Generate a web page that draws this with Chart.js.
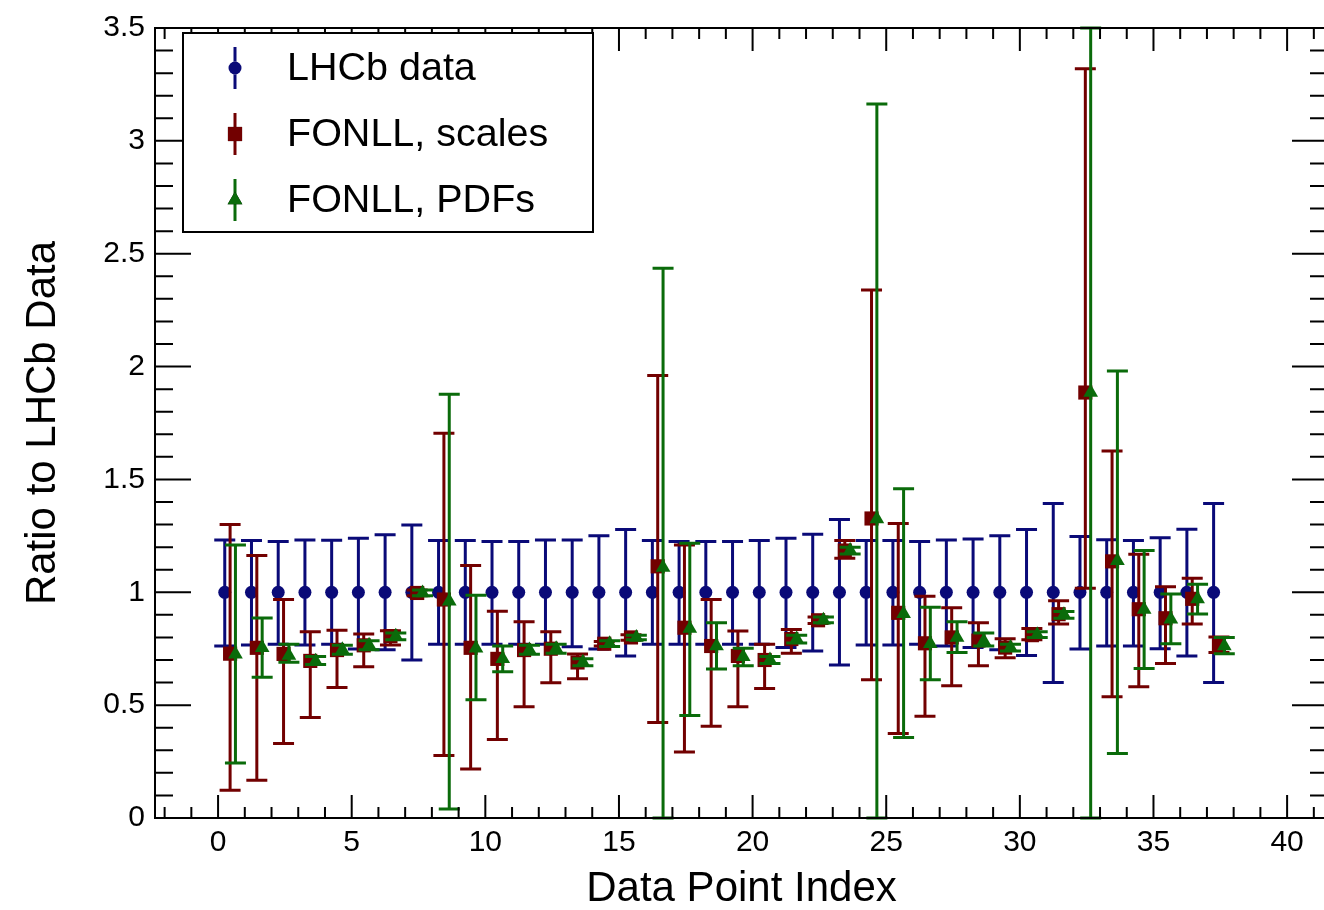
<!DOCTYPE html>
<html>
<head>
<meta charset="utf-8">
<script src="https://cdn.jsdelivr.net/npm/chart.js@4.4.0/dist/chart.umd.min.js"></script>
<style>
  html, body { margin: 0; padding: 0; background: #fff; overflow: hidden; }
</style>
</head>
<body>
<canvas id="myChart" width="1340" height="910"></canvas>
<script>
// data point index (x) of every measurement
const pointIndex = [0,1,2,3,4,5,6,7,8,9,10,11,12,13,14,15,16,17,18,19,20,21,22,23,24,25,26,27,28,29,30,31,32,33,34,35,36,37];

// LHCb data: ratio is 1 everywhere, error band upper / lower edge
const lhcbValue = [1,1,1,1,1,1,1,1,1,1,1,1,1,1,1,1,1,1,1,1,1,1,1,1,1,1,1,1,1,1,1,1,1,1,1,1,1,1];
const lhcbHi = [1.232,1.229,1.225,1.232,1.23,1.239,1.255,1.298,1.229,1.229,1.225,1.225,1.232,1.232,1.251,1.278,1.229,1.225,1.225,1.225,
                1.229,1.239,1.257,1.322,1.229,1.229,1.225,1.232,1.236,1.251,1.278,1.393,1.247,1.233,1.229,1.242,1.279,1.393];
const lhcbLo = [0.762,0.766,0.77,0.766,0.77,0.749,0.745,0.70,0.77,0.77,0.77,0.77,0.77,0.759,0.749,0.718,0.77,0.77,0.77,0.77,
                0.77,0.755,0.74,0.678,0.766,0.766,0.77,0.762,0.755,0.745,0.72,0.60,0.749,0.762,0.762,0.75,0.718,0.60];

// FONLL, scale variations
const scalesValue = [0.728,0.754,0.727,0.696,0.744,0.765,0.806,0.997,0.968,0.754,0.705,0.744,0.75,0.689,0.772,0.80,1.115,0.843,0.762,0.718,
                     0.70,0.793,0.876,1.185,1.327,0.909,0.774,0.80,0.786,0.755,0.81,0.903,1.885,1.137,0.925,0.885,0.971,0.762];
const scalesHi = [1.30,1.163,0.968,0.825,0.832,0.815,0.83,1.01,1.705,1.119,0.916,0.869,0.825,0.727,0.782,0.812,1.96,1.21,0.968,0.828,
                  0.77,0.835,0.89,1.229,2.339,1.305,0.982,0.932,0.865,0.794,0.84,0.962,3.32,1.626,1.169,1.024,1.062,0.802];
const scalesLo = [0.123,0.167,0.33,0.445,0.578,0.67,0.766,0.985,0.277,0.217,0.348,0.493,0.599,0.617,0.762,0.788,0.423,0.292,0.407,0.493,
                  0.574,0.73,0.862,1.151,0.612,0.374,0.451,0.586,0.674,0.71,0.79,0.86,1.018,0.537,0.581,0.684,0.86,0.733];

// FONLL, PDF uncertainties
const pdfValue = [0.725,0.754,0.72,0.695,0.745,0.765,0.805,0.997,0.96,0.752,0.705,0.744,0.75,0.69,0.772,0.80,1.11,0.84,0.762,0.714,
                  0.70,0.793,0.876,1.185,1.325,0.905,0.772,0.80,0.784,0.755,0.812,0.90,1.885,1.14,0.924,0.88,0.97,0.762];
const pdfHi = [1.21,0.886,0.77,0.715,0.765,0.785,0.82,1.01,1.877,0.987,0.762,0.765,0.77,0.705,0.785,0.81,2.436,1.217,0.865,0.752,
               0.715,0.81,0.89,1.2,3.163,1.459,0.934,0.869,0.82,0.77,0.825,0.915,3.5,1.98,1.185,0.992,1.036,0.80];
const pdfLo = [0.244,0.624,0.69,0.68,0.725,0.745,0.79,0.985,0.04,0.524,0.648,0.725,0.73,0.675,0.76,0.79,0,0.454,0.66,0.674,
               0.685,0.775,0.865,1.17,0,0.357,0.612,0.733,0.762,0.74,0.80,0.885,0,0.286,0.662,0.772,0.904,0.728];

const seriesLabels = ['LHCb data', 'FONLL, scales', 'FONLL, PDFs'];
const yTicks = [0, 0.5, 1, 1.5, 2, 2.5, 3, 3.5];

const BLUE = '#0a0a78';
const RED = '#720000';
const GREEN = '#0a6b0a';
const FONT = '"Liberation Sans", Arial, Helvetica, sans-serif';

function points(values, shift) {
  return pointIndex.map((idx, i) => ({ x: idx + shift, y: values[i] }));
}

// vertical error bars with caps, drawn under each dataset's markers
const errorBars = {
  id: 'errorBars',
  beforeDatasetDraw(chart, args) {
    const ds = chart.data.datasets[args.index];
    const ys = chart.scales.y;
    const area = chart.chartArea;
    const ctx = chart.ctx;
    ctx.save();
    ctx.beginPath();
    ctx.rect(area.left, area.top - 2, area.right - area.left, area.bottom - area.top + 4);
    ctx.clip();
    ctx.strokeStyle = ds.borderColor;
    ctx.lineWidth = 3;
    args.meta.data.forEach((pt, i) => {
      const yHi = ys.getPixelForValue(ds.errHi[i]);
      const yLo = ys.getPixelForValue(ds.errLo[i]);
      ctx.beginPath();
      ctx.moveTo(pt.x, yHi); ctx.lineTo(pt.x, yLo);
      ctx.moveTo(pt.x - 10.5, yHi); ctx.lineTo(pt.x + 10.5, yHi);
      ctx.moveTo(pt.x - 10.5, yLo); ctx.lineTo(pt.x + 10.5, yLo);
      ctx.stroke();
    });
    ctx.restore();
  }
};

// ROOT-like frame with inward ticks on all sides, then the legend box
const frameAndLegend = {
  id: 'frameAndLegend',
  afterDraw(chart) {
    const ctx = chart.ctx;
    const { left, right, top, bottom } = chart.chartArea;
    const xs = chart.scales.x, ys = chart.scales.y;
    ctx.save();
    ctx.strokeStyle = '#000';
    ctx.lineWidth = 2;
    ctx.strokeRect(left, top, right - left, bottom - top);
    ctx.beginPath();
    for (let v = Math.ceil(xs.min); v <= xs.max; v++) {
      const px = xs.getPixelForValue(v);
      const len = v % 5 === 0 ? 23 : 11;
      ctx.moveTo(px, bottom); ctx.lineTo(px, bottom - len);
      ctx.moveTo(px, top); ctx.lineTo(px, top + len);
    }
    for (let k = 0; k <= 35; k++) {
      const py = ys.getPixelForValue(k / 10);
      const len = k % 5 === 0 ? 36 : 18;
      ctx.moveTo(left, py); ctx.lineTo(left + len, py);
      ctx.moveTo(right, py); ctx.lineTo(right - len, py);
    }
    ctx.stroke();

    // legend
    const bx = 183, by = 33, bw = 410, bh = 199;
    ctx.fillStyle = '#fff';
    ctx.fillRect(bx, by, bw, bh);
    ctx.lineWidth = 2;
    ctx.strokeRect(bx, by, bw, bh);
    const rowY = [68, 134, 200];
    chart.data.datasets.forEach((ds, i) => {
      const mx = 235, my = rowY[i];
      ctx.strokeStyle = ds.borderColor;
      ctx.lineWidth = 3;
      ctx.beginPath();
      ctx.moveTo(mx, my - 21); ctx.lineTo(mx, my + 21);
      ctx.stroke();
      Chart.helpers.drawPoint(ctx, {
        pointStyle: ds.pointStyle, radius: ds.pointRadius, borderWidth: 0, rotation: 0
      }, mx, my);
      ctx.fillStyle = ds.backgroundColor;
      ctx.fill();
      ctx.fillStyle = '#000';
      ctx.font = '39.5px ' + FONT;
      ctx.textBaseline = 'middle';
      ctx.textAlign = 'left';
      ctx.fillText(ds.label, 287, my + 1);
    });
    ctx.restore();
  }
};

const ctx = document.getElementById('myChart').getContext('2d');
const myChart = new Chart(ctx, {
  type: 'scatter',
  data: {
    datasets: [{
      label: seriesLabels[0],
      data: points(lhcbValue, 0.25),
      errHi: lhcbHi, errLo: lhcbLo,
      pointStyle: 'circle', pointRadius: 6.5,
      backgroundColor: BLUE, borderColor: BLUE, borderWidth: 0,
      order: 3
    }, {
      label: seriesLabels[1],
      data: points(scalesValue, 0.45),
      errHi: scalesHi, errLo: scalesLo,
      pointStyle: 'rect', pointRadius: 10,
      backgroundColor: RED, borderColor: RED, borderWidth: 0,
      order: 2
    }, {
      label: seriesLabels[2],
      data: points(pdfValue, 0.65),
      errHi: pdfHi, errLo: pdfLo,
      pointStyle: 'triangle', pointRadius: 8.5,
      backgroundColor: GREEN, borderColor: GREEN, borderWidth: 0,
      order: 1
    }]
  },
  options: {
    responsive: false,
    animation: false,
    devicePixelRatio: 1,
    layout: { padding: { left: 0, top: 24, right: 12, bottom: 0 } },
    plugins: {
      legend: { display: false },
      tooltip: { enabled: false }
    },
    scales: {
      x: {
        type: 'linear',
        min: -2.36,
        max: 41.53,
        grid: { display: false, drawTicks: false },
        border: { display: false },
        ticks: {
          stepSize: 5,
          includeBounds: false,
          autoSkip: false,
          maxRotation: 0,
          padding: 7,
          color: '#000',
          font: { family: FONT, size: 30, lineHeight: 1.2 }
        },
        title: {
          display: true,
          text: 'Data Point Index',
          color: '#000',
          padding: { top: 0, bottom: 0 },
          font: { family: FONT, size: 42, lineHeight: 1 }
        },
        afterFit(scale) { scale.height = 92; }
      },
      y: {
        type: 'linear',
        min: 0,
        max: 3.5,
        grid: { display: false, drawTicks: false },
        border: { display: false },
        afterBuildTicks(scale) { scale.ticks = yTicks.map(v => ({ value: v })); },
        ticks: {
          padding: 10,
          color: '#000',
          font: { family: FONT, size: 30, lineHeight: 1.2 },
          callback: v => String(v)
        },
        title: {
          display: true,
          text: 'Ratio to LHCb Data',
          color: '#000',
          padding: { top: 22, bottom: 0 },
          font: { family: FONT, size: 42, lineHeight: 1 }
        },
        afterFit(scale) { scale.width = 155; }
      }
    }
  },
  plugins: [errorBars, frameAndLegend]
});
</script>
</body>
</html>
